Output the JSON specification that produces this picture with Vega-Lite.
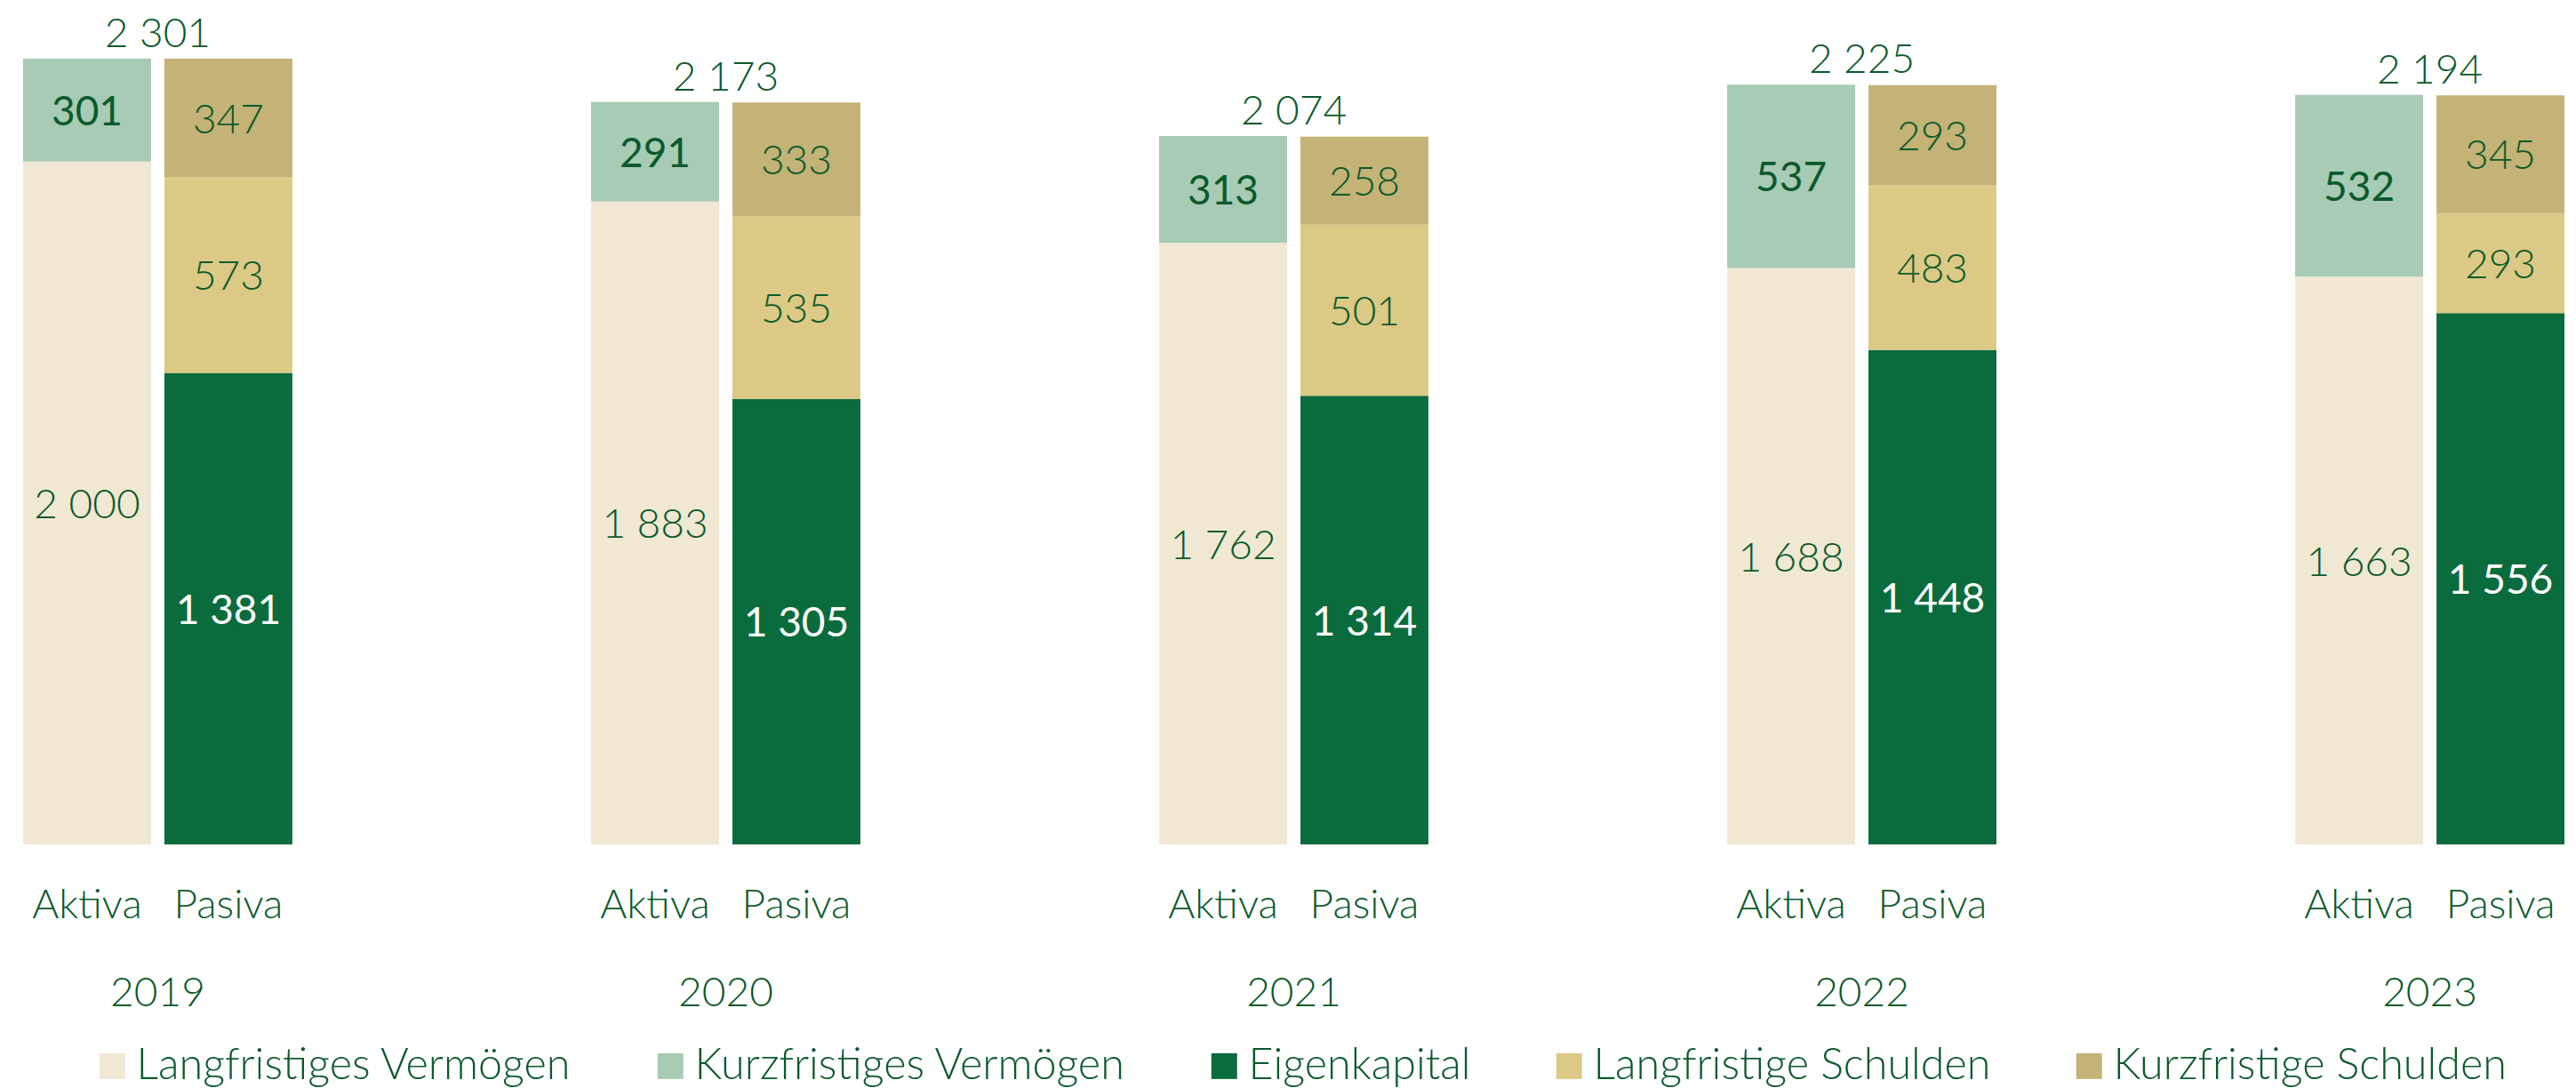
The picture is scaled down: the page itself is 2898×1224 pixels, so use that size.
{
  "$schema": "https://vega.github.io/schema/vega-lite/v6.json",
  "width": 2859,
  "height": 950,
  "autosize": {"type": "none"},
  "padding": {"left": 26, "top": 0, "right": 13, "bottom": 274},
  "background": "white",
  "config": {
    "view": {"stroke": null},
    "locale": {"number": {"decimal": ",", "thousands": " ", "grouping": [3], "currency": ["", ""]}},
    "text": {"font": "Lato", "fontSize": 46, "fontWeight": 300, "color": "#0B5A2B"}
  },
  "datasets": {
    "main": [
      {"year": "2019", "side": "Aktiva", "category": "Langfristiges Vermögen", "ord": 1, "value": 2000},
      {"year": "2019", "side": "Aktiva", "category": "Kurzfristiges Vermögen", "ord": 2, "value": 301},
      {"year": "2019", "side": "Pasiva", "category": "Eigenkapital", "ord": 3, "value": 1381},
      {"year": "2019", "side": "Pasiva", "category": "Langfristige Schulden", "ord": 4, "value": 573},
      {"year": "2019", "side": "Pasiva", "category": "Kurzfristige Schulden", "ord": 5, "value": 347},
      {"year": "2020", "side": "Aktiva", "category": "Langfristiges Vermögen", "ord": 1, "value": 1883},
      {"year": "2020", "side": "Aktiva", "category": "Kurzfristiges Vermögen", "ord": 2, "value": 291},
      {"year": "2020", "side": "Pasiva", "category": "Eigenkapital", "ord": 3, "value": 1305},
      {"year": "2020", "side": "Pasiva", "category": "Langfristige Schulden", "ord": 4, "value": 535},
      {"year": "2020", "side": "Pasiva", "category": "Kurzfristige Schulden", "ord": 5, "value": 333},
      {"year": "2021", "side": "Aktiva", "category": "Langfristiges Vermögen", "ord": 1, "value": 1762},
      {"year": "2021", "side": "Aktiva", "category": "Kurzfristiges Vermögen", "ord": 2, "value": 313},
      {"year": "2021", "side": "Pasiva", "category": "Eigenkapital", "ord": 3, "value": 1314},
      {"year": "2021", "side": "Pasiva", "category": "Langfristige Schulden", "ord": 4, "value": 501},
      {"year": "2021", "side": "Pasiva", "category": "Kurzfristige Schulden", "ord": 5, "value": 258},
      {"year": "2022", "side": "Aktiva", "category": "Langfristiges Vermögen", "ord": 1, "value": 1688},
      {"year": "2022", "side": "Aktiva", "category": "Kurzfristiges Vermögen", "ord": 2, "value": 537},
      {"year": "2022", "side": "Pasiva", "category": "Eigenkapital", "ord": 3, "value": 1448},
      {"year": "2022", "side": "Pasiva", "category": "Langfristige Schulden", "ord": 4, "value": 483},
      {"year": "2022", "side": "Pasiva", "category": "Kurzfristige Schulden", "ord": 5, "value": 293},
      {"year": "2023", "side": "Aktiva", "category": "Langfristiges Vermögen", "ord": 1, "value": 1663},
      {"year": "2023", "side": "Aktiva", "category": "Kurzfristiges Vermögen", "ord": 2, "value": 532},
      {"year": "2023", "side": "Pasiva", "category": "Eigenkapital", "ord": 3, "value": 1556},
      {"year": "2023", "side": "Pasiva", "category": "Langfristige Schulden", "ord": 4, "value": 293},
      {"year": "2023", "side": "Pasiva", "category": "Kurzfristige Schulden", "ord": 5, "value": 345}
    ],
    "totals": [
      {"year": "2019", "total": 2301},
      {"year": "2020", "total": 2173},
      {"year": "2021", "total": 2074},
      {"year": "2022", "total": 2225},
      {"year": "2023", "total": 2194}
    ]
  },
  "data": {"name": "main"},
  "layer": [
    {
      "mark": {"type": "bar", "strokeWidth": 0},
      "encoding": {
        "x": {"field": "year", "type": "nominal", "axis": null, "scale": {"paddingInner": 0.526, "paddingOuter": 0}},
        "xOffset": {"field": "side", "type": "nominal", "scale": {"paddingInner": 0.0943, "paddingOuter": 0}},
        "y": {"field": "value", "type": "quantitative", "stack": "zero", "axis": null, "scale": {"domain": [0, 2473], "nice": false, "zero": true}},
        "order": {"field": "ord", "type": "quantitative", "sort": "ascending"},
        "color": {
          "field": "category",
          "type": "nominal",
          "sort": ["Langfristiges Vermögen", "Kurzfristiges Vermögen", "Eigenkapital", "Langfristige Schulden", "Kurzfristige Schulden"],
          "scale": {
            "domain": ["Langfristiges Vermögen", "Kurzfristiges Vermögen", "Eigenkapital", "Langfristige Schulden", "Kurzfristige Schulden"],
            "range": ["#F0E8D3", "#A7CBB5", "#0A6C3C", "#DCC985", "#C4B276"]
          },
          "legend": {
            "title": null,
            "orient": "none",
            "direction": "horizontal",
            "columns": 5,
            "legendX": 76,
            "legendY": 1175,
            "padding": 0,
            "symbolType": "square",
            "symbolSize": 841,
            "symbolStrokeWidth": 0,
            "symbolOpacity": 1,
            "labelFont": "Lato",
            "labelFontSize": 48.5,
            "labelFontWeight": 300,
            "labelColor": "#0B5A2B",
            "labelOffset": 3,
            "labelLimit": 0,
            "columnPadding": 86
          }
        }
      }
    },
    {
      "transform": [
        {"stack": "value", "groupby": ["year", "side"], "sort": [{"field": "ord", "order": "ascending"}], "as": ["v0", "v1"]},
        {"filter": "datum.category !== 'Kurzfristiges Vermögen' && datum.category !== 'Eigenkapital'"},
        {"fold": ["v0", "v1"], "as": ["k", "pos"]}
      ],
      "mark": {"type": "text", "baseline": "alphabetic", "dy": 17},
      "encoding": {
        "x": {"field": "year", "type": "nominal"},
        "xOffset": {"field": "side", "type": "nominal"},
        "y": {"field": "pos", "type": "quantitative", "aggregate": "mean", "stack": null},
        "detail": {"field": "category"},
        "text": {"field": "value", "type": "quantitative", "format": ",d"}
      }
    },
    {
      "transform": [
        {"stack": "value", "groupby": ["year", "side"], "sort": [{"field": "ord", "order": "ascending"}], "as": ["v0", "v1"]},
        {"filter": "datum.category === 'Kurzfristiges Vermögen' || datum.category === 'Eigenkapital'"},
        {"fold": ["v0", "v1"], "as": ["k", "pos"]}
      ],
      "mark": {"type": "text", "baseline": "alphabetic", "dy": 17, "fontWeight": 400},
      "encoding": {
        "x": {"field": "year", "type": "nominal"},
        "xOffset": {"field": "side", "type": "nominal"},
        "y": {"field": "pos", "type": "quantitative", "aggregate": "mean", "stack": null},
        "detail": {"field": "category"},
        "text": {"field": "value", "type": "quantitative", "format": ",d"},
        "color": {"condition": {"test": "datum.category === 'Eigenkapital'", "value": "#FFFFFF"}, "value": "#0B5A2B"}
      }
    },
    {
      "data": {"name": "totals"},
      "mark": {"type": "text", "baseline": "alphabetic", "dy": -13},
      "encoding": {
        "x": {"field": "year", "type": "nominal"},
        "y": {"field": "total", "type": "quantitative"},
        "text": {"field": "total", "type": "quantitative", "format": ",d"}
      }
    },
    {
      "transform": [
        {"aggregate": [{"op": "count", "as": "n"}], "groupby": ["year", "side"]}
      ],
      "mark": {"type": "text", "baseline": "alphabetic", "dy": 83},
      "encoding": {
        "x": {"field": "year", "type": "nominal"},
        "xOffset": {"field": "side", "type": "nominal"},
        "y": {"datum": 0, "type": "quantitative"},
        "text": {"field": "side", "type": "nominal"}
      }
    },
    {
      "data": {"name": "totals"},
      "mark": {"type": "text", "baseline": "alphabetic", "dy": 182},
      "encoding": {
        "x": {"field": "year", "type": "nominal"},
        "y": {"datum": 0, "type": "quantitative"},
        "text": {"field": "year", "type": "nominal"}
      }
    }
  ]
}
